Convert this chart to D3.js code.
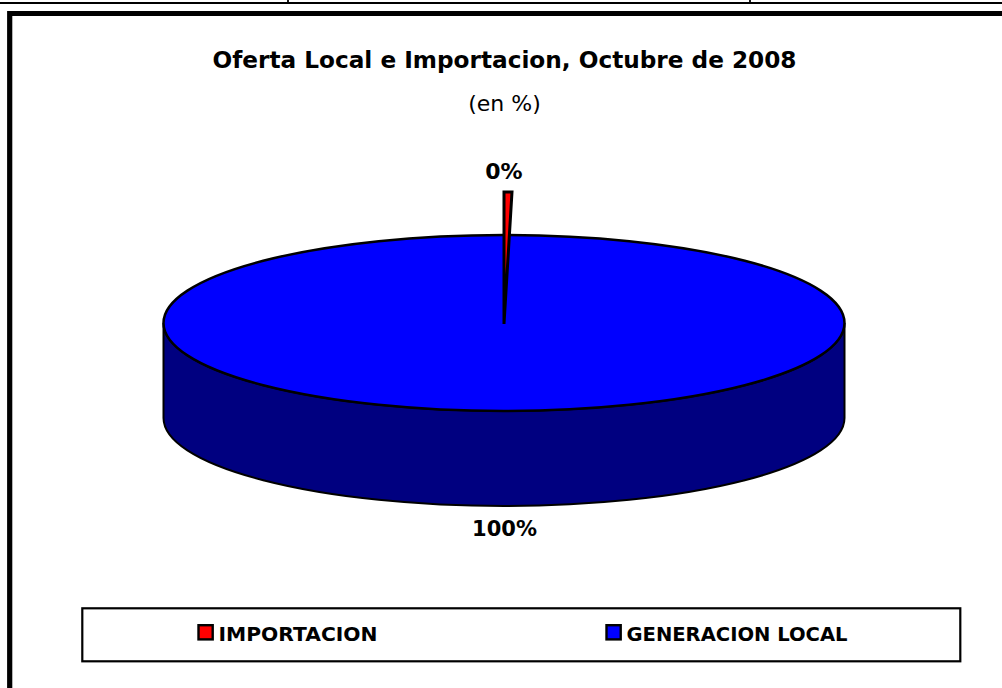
<!DOCTYPE html>
<html><head><meta charset="utf-8">
<script src="https://cdn.jsdelivr.net/npm/d3@7/dist/d3.min.js"></script>
<style>html,body{margin:0;padding:0;background:#fff}svg{display:block}text{font-family:"DejaVu Sans",sans-serif;fill:#000}</style>
</head><body><div id="c"></div>
<script>
const categories = ["IMPORTACION", "GENERACION LOCAL"];
const shares = [0.35, 99.65];
const pctLabels = ["0%", "100%"];
const colors = ["#ff0000", "#0000ff"];
const sideColor = "#000080";

const W = 1002, H = 688;
const svg = d3.select("#c").append("svg").attr("width", W).attr("height", H);
const black = "#000";

// page rules and chart frame
svg.append("path").attr("d", "M0 3H1002M288 0V3M750 0V3").attr("fill","none").attr("stroke",black).attr("stroke-width",1.8);
svg.append("path").attr("d", "M9.7 688V13.5H1002").attr("fill","none").attr("stroke",black).attr("stroke-width",5.2);

svg.append("text").attr("x",504.5).attr("y",68).attr("text-anchor","middle")
  .attr("font-size",23.2).attr("font-weight",700).text("Oferta Local e Importacion, Octubre de 2008");
svg.append("text").attr("x",504.5).attr("y",111).attr("text-anchor","middle")
  .attr("font-size",22).text("(en %)");

const cx=504, cy=323, rx=340.5, ry=88, depth=95, stretch=1.5;
const pie = d3.pie().sort(null).startAngle(0).endAngle(2*Math.PI);
const arcs = pie(shares);
const rxScale = d3.scaleLinear().domain([0,1]).range([0,rx]);
const px = a => cx + rxScale(Math.sin(a));

// side wall
const band = `M${cx-rx} ${cy}V${cy+depth}A${rx} ${ry} 0 0 0 ${cx+rx} ${cy+depth}V${cy}A${rx} ${ry} 0 0 1 ${cx-rx} ${cy}Z`;
svg.append("path").attr("d",band).attr("fill",sideColor).attr("stroke",black).attr("stroke-width",2);
// top face
svg.append("ellipse").attr("cx",cx).attr("cy",cy).attr("rx",rx).attr("ry",ry)
  .attr("fill",colors[1]).attr("stroke",black).attr("stroke-width",2.5);

// small slice, pulled up out of the disc
const s = arcs[0];
const tipY = cy + 1;
const topY = cy - ry*stretch + 1;
const a0 = px(s.startAngle), a1 = px(s.endAngle)+0.5;
svg.append("path").attr("d",`M${cx} ${tipY}L${a0} ${topY}L${a1} ${topY}Z`)
  .attr("fill",colors[0]).attr("stroke",black).attr("stroke-width",3).attr("stroke-linejoin","miter");

svg.append("text").attr("x",504).attr("y",179).attr("text-anchor","middle").attr("font-size",22).attr("font-weight",700).text(pctLabels[0]);
svg.append("text").attr("x",504.5).attr("y",536).attr("text-anchor","middle").attr("font-size",21).attr("font-weight",700).text(pctLabels[1]);

// legend
svg.append("rect").attr("x",82.3).attr("y",608.3).attr("width",878).attr("height",53).attr("fill","#fff").attr("stroke",black).attr("stroke-width",2.2);
const legendX = d3.scaleOrdinal().domain(categories).range([198.5,606.5]);
const legendW = d3.scaleOrdinal().domain(categories).range([159,221]);
categories.forEach((c,i)=>{
  svg.append("rect").attr("x",legendX(c)).attr("y",625.2).attr("width",14.2).attr("height",14.2)
    .attr("fill",colors[i]).attr("stroke",black).attr("stroke-width",2.4);
  svg.append("text").attr("x",legendX(c)+20).attr("y",641).attr("font-size",20).attr("font-weight",700)
    .attr("textLength",legendW(c)).attr("lengthAdjust","spacingAndGlyphs").text(c);
});
</script></body></html>
